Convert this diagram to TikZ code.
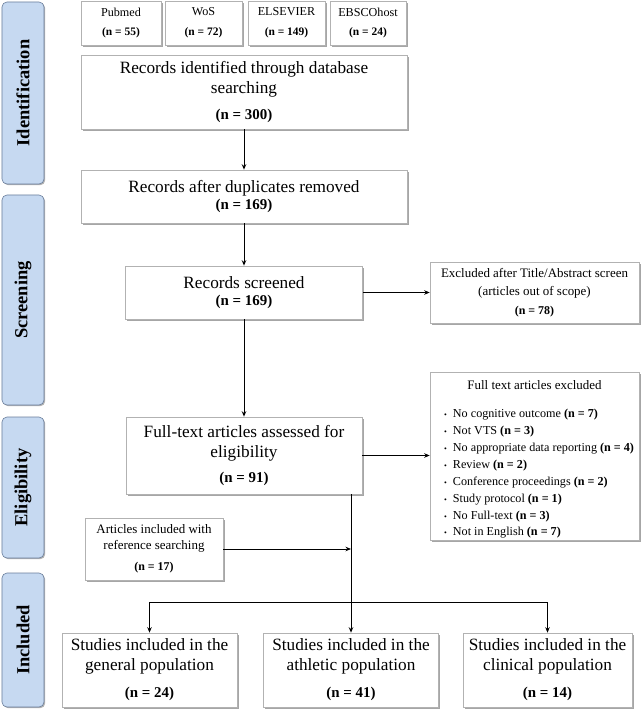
\documentclass[tikz,border=0pt]{standalone}
\usepackage{fontspec}
\setmainfont{Liberation Serif}
\usetikzlibrary{shadows,arrows.meta}
\definecolor{tabblue}{RGB}{198,217,241}
\definecolor{tabedge}{RGB}{105,125,155}
\newcommand\nval[1]{{\bfseries (n = #1)}}
\newcommand\bignval[1]{{\fontsize{15}{18}\selectfont\bfseries (n = #1)}}
\newcommand\bul{{\fontsize{8}{10}\selectfont\textbullet}\hspace{6pt}}
\tikzset{
  pbox/.style={draw=gray!60, line width=0.6pt, fill=white, inner sep=1pt, align=center,
    drop shadow={shadow xshift=1.6pt, shadow yshift=-1.6pt, fill=gray!70, opacity=1}},
  bigtxt/.style={font=\fontsize{17.3}{20}\selectfont},
  tab/.style={draw=tabedge, line width=0.6pt, fill=tabblue, rounded corners=5pt,
    minimum width=42bp, inner sep=0pt,
    drop shadow={shadow xshift=1.2pt, shadow yshift=-1.2pt, fill=gray!60, opacity=1}},
  tablabel/.style={rotate=90, font=\fontsize{18.5}{20}\selectfont\bfseries},
  conn/.style={line width=1pt, -{Stealth[length=5.5pt,width=4.5pt]}},
}
\begin{document}
\begin{tikzpicture}[x=1bp, y={(0bp,-1bp)}]
\useasboundingbox (0,0) rectangle (642,710);
% side tabs
\node[tab, minimum height=182bp] (tid) at (23,93) {};
\node[tablabel] (lid) at (tid.center) {Identification};
\node[tab, minimum height=210bp] (tsc) at (23,300) {};
\node[tablabel] (lsc) at (tsc.center) {Screening};
\node[tab, minimum height=141bp] (tel) at (23,487.5) {};
\node[tablabel] (lel) at (tel.center) {Eligibility};
\node[tab, minimum height=134bp] (tin) at (23,640) {};
\node[tablabel] (lin) at (tin.center) {Included};
% database boxes
\tikzset{dbtxt/.style={font=\fontsize{12.2}{20}\selectfont}}
\node[pbox, dbtxt, minimum width=80bp, minimum height=44bp] (pub) at (121,23) {Pubmed\\{\fontsize{11.5}{13}\selectfont\nval{55}}};
\node[pbox, dbtxt, minimum width=77bp, minimum height=44bp] (wos) at (203.5,23) {WoS\\{\fontsize{11.5}{13}\selectfont\nval{72}}};
\node[pbox, dbtxt, minimum width=77bp, minimum height=44bp] (els) at (286.5,23) {ELSEVIER\\{\fontsize{11.5}{13}\selectfont\nval{149}}};
\node[pbox, dbtxt, minimum width=76bp, minimum height=44bp] (ebs) at (368,23) {EBSCOhost\\{\fontsize{11.5}{13}\selectfont\nval{24}}};
% main column
\node[pbox, bigtxt, minimum width=326bp, minimum height=74bp] (idb) at (244,92) {Records identified through database\\searching\\[6pt]\bignval{300}};
\node[pbox, bigtxt, minimum width=326bp, minimum height=53bp] (dup) at (244,196.5) {Records after duplicates removed\\[-3pt]\bignval{169}};
\node[pbox, bigtxt, minimum width=237bp, minimum height=53bp] (scr) at (244,292.5) {Records screened\\[-3pt]\bignval{169}};
\node[pbox, font=\fontsize{13}{18}\selectfont, minimum width=209bp, minimum height=61bp] (ex1) at (534.5,292.5) {Excluded after Title/Abstract screen\\(articles out of scope)\\[1pt]{\fontsize{12}{16}\selectfont\nval{78}}};
\node[pbox, bigtxt, minimum width=236bp, minimum height=77bp] (ft) at (244,455.5) {Full-text articles assessed for\\eligibility\\[5pt]\bignval{91}};
\node[pbox, minimum width=209bp, minimum height=168bp] (ex2) at (534.5,456) {};
\node[font=\fontsize{13}{16}\selectfont] (ex2t) at (534.5,385) {Full text articles excluded};
\node[anchor=west, align=left, font=\fontsize{12.2}{16.9}\selectfont, inner sep=0pt] (ex2l) at (444,474) {%
\bul No cognitive outcome \nval{7}\\
\bul Not VTS \nval{3}\\
\bul No appropriate data reporting \nval{4}\\
\bul Review \nval{2}\\
\bul Conference proceedings \nval{2}\\
\bul Study protocol \nval{1}\\
\bul No Full-text \nval{3}\\
\bul Not in English \nval{7}};
\node[pbox, font=\fontsize{13}{16}\selectfont, minimum width=138bp, minimum height=62bp] (ref) at (154,549) {Articles included with\\reference searching\\[5pt]{\fontsize{12}{16}\selectfont\nval{17}}};
% bottom
\node[pbox, bigtxt, minimum width=175bp, minimum height=74bp] (gen) at (149.5,670) {Studies included in the\\general population\\[7pt]\bignval{24}};
\node[pbox, bigtxt, minimum width=175bp, minimum height=74bp] (ath) at (351,670) {Studies included in the\\athletic population\\[7pt]\bignval{41}};
\node[pbox, bigtxt, minimum width=169bp, minimum height=74bp] (cli) at (547.5,670) {Studies included in the\\clinical population\\[7pt]\bignval{14}};
% connectors
\draw[conn] (idb) -- (dup);
\draw[conn] (dup) -- (scr);
\draw[conn] (scr.east) -- (ex1.west);
\draw[conn] (scr) -- (ft);
\draw[conn] (ft.east) -- (ft.east -| ex2.west);
\coordinate (br) at (351,602);
\draw[conn] (ft.south -| ath.north) -- (ath.north);
\draw[conn] (ref.east) -- (ref.east -| ath.north);
\draw[conn] (br) -| (gen.north);
\draw[conn] (br) -| (cli.north);
\end{tikzpicture}
\end{document}
